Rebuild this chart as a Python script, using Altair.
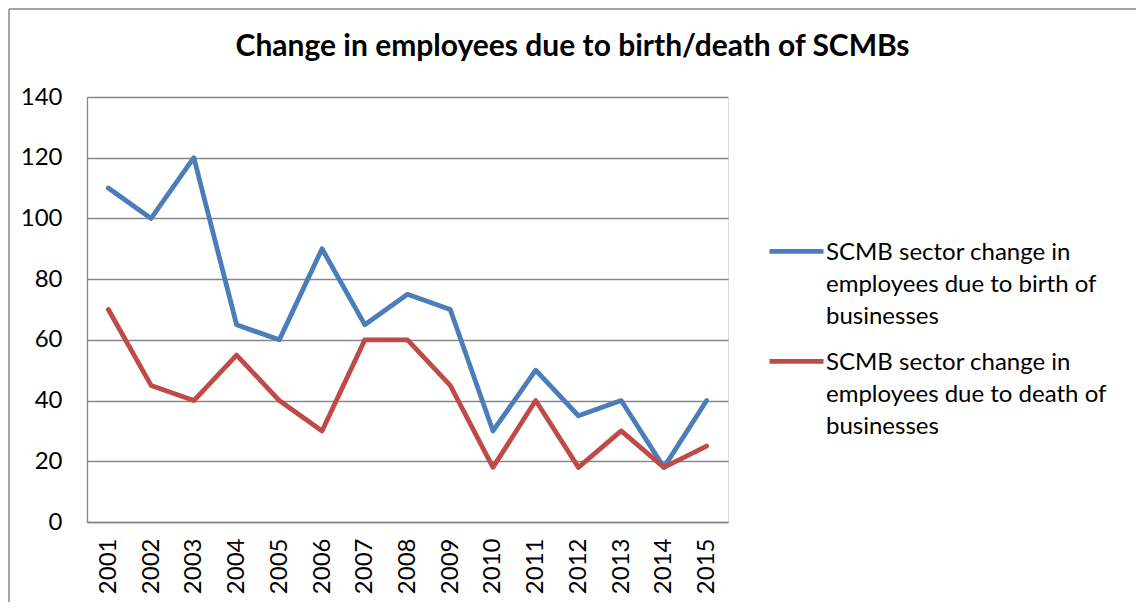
import altair as alt
import pandas as pd

years = [str(y) for y in range(2001, 2016)]
birth = [110, 100, 120, 65, 60, 90, 65, 75, 70, 30, 50, 35, 40, 18, 40]
death = [70, 45, 40, 55, 40, 30, 60, 60, 45, 18, 40, 18, 30, 18, 25]
series_names = [
    "SCMB sector change in employees due to birth of businesses",
    "SCMB sector change in employees due to death of businesses",
]
series_lines = [
    ["SCMB sector change in", "employees due to birth of", "businesses"],
    ["SCMB sector change in", "employees due to death of", "businesses"],
]
colors = ["#4A7EBB", "#BE4B48"]
y_ticks = [0, 20, 40, 60, 80, 100, 120, 140]
title_text = "Change in employees due to birth/death of SCMBs"

rows = []
for name, vals in zip(series_names, [birth, death]):
    for yr, v in zip(years, vals):
        rows.append({"Year": yr, "Series": name, "Value": v})
df = pd.DataFrame(rows)

W, H = 641, 425
PL, PT, PR, PB = 79, 89, 408, 80

label_expr = "datum.label == '%s' ? %s : %s" % (
    series_names[0],
    str(series_lines[0]),
    str(series_lines[1]),
)

lines = alt.Chart(df).mark_line(strokeWidth=4.8, strokeJoin="round", strokeCap="round").encode(
    x=alt.X("Year:O", scale=alt.Scale(type="point", padding=0.5),
            axis=alt.Axis(title=None, labelAngle=-90, labelAlign="right", labelBaseline="middle",
                          labelPadding=16, ticks=False, domainColor="#868686", domainWidth=1.3,
                          labelFont="Lato", labelFontSize=24, labelColor="black")),
    y=alt.Y("Value:Q", scale=alt.Scale(domain=[0, 140], nice=False),
            axis=alt.Axis(title=None, values=y_ticks, ticks=False, labelPadding=25,
                          grid=True, gridColor="#868686", gridWidth=1.3,
                          domainColor="#868686", domainWidth=1.3,
                          labelFont="Lato", labelFontSize=24, labelColor="black")),
    color=alt.Color("Series:N", scale=alt.Scale(domain=series_names, range=colors),
                    legend=alt.Legend(title=None, orient="none", legendX=680, legendY=133,
                                      symbolType="M-1,-0.3L1,-0.3", symbolSize=2916,
                                      symbolStrokeWidth=4.8, labelOffset=0,
                                      labelExpr=label_expr, labelLimit=400,
                                      labelFont="Lato", labelFontSize=24, labelColor="black",
                                      labelBaseline="alphabetic",
                                      rowPadding=11, padding=0)),
)

border_top = alt.Chart(pd.DataFrame({"a": [0]})).mark_rule(color="#868686", strokeWidth=1.5).encode(
    x=alt.value(-PL + 1), x2=alt.value(W + PR), y=alt.value(-PT + 1)
)
border_left = alt.Chart(pd.DataFrame({"a": [0]})).mark_rule(color="#868686", strokeWidth=1.5).encode(
    x=alt.value(-PL + 1), y=alt.value(-PT + 1), y2=alt.value(H + PB)
)

chart = alt.layer(lines, border_top, border_left).properties(
    width=W, height=H,
    title=alt.Title(title_text, font="Lato", fontSize=30, fontWeight="bold", color="black",
                    anchor="middle", frame="group", dx=165, offset=-54),
    autosize=alt.AutoSizeParams(type="none"),
    padding={"left": PL, "top": PT, "right": PR, "bottom": PB},
).configure_view(stroke=None).configure(
    background="white",
    style={"guide-label": {"lineHeight": 32}},
)

chart.save("out.html", embed_options={"renderer": "svg", "actions": False})
